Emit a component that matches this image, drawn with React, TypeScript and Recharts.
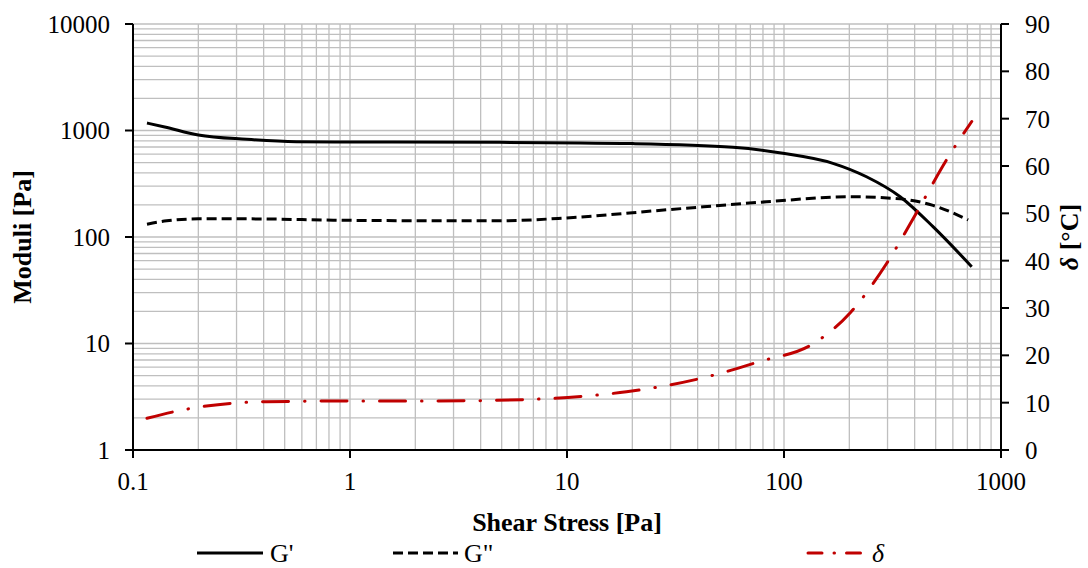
import { CartesianGrid, Line, LineChart, XAxis, YAxis } from "recharts"

if (typeof document !== "undefined") document.body.style.margin = "0"

const FONT = "Liberation Serif"
const TICK_FONT = 25
const TITLE_FONT = 26
const TICK_SIZE = 8

// G' (storage modulus)
const gpStress = [0.116, 0.14, 0.2, 0.334, 0.567, 1, 4.9, 20.1, 58.2, 98.9, 168, 240, 343, 486, 733]
const gpModulus = [1175, 1080, 908, 827, 785, 780, 774, 753, 695, 611, 492, 368, 239, 125, 52.6]

// G'' (loss modulus)
const gppStress = [0.116, 0.143, 0.2, 0.346, 0.836, 2.41, 4.9, 9.97, 28.8, 83, 201, 343, 486, 706]
const gppModulus = [132, 142, 148, 148, 144, 142, 142, 151, 180, 214, 239, 228, 198, 144.5]

// delta (phase angle)
const deltaStress = [0.116, 0.159, 0.218, 0.29, 0.413, 1.03, 2.41, 6.9, 13.7, 18.8, 41.1, 77.3, 137, 201, 297, 410, 561, 733]
const deltaValue = [6.7, 8.2, 9.3, 9.9, 10.2, 10.35, 10.35, 10.7, 11.6, 12.3, 15.1, 18.7, 22.5, 28.9, 39.4, 50.3, 61.3, 69.4]

const xMajors = [0.1, 1, 10, 100, 1000]
const yMajors = [1, 10, 100, 1000, 10000]
const rightTicks = [0, 10, 20, 30, 40, 50, 60, 70, 80, 90]
const minorSteps = [2, 3, 4, 5, 6, 7, 8, 9]

const withMinors = (majors: number[]) => {
  const out: number[] = []
  majors.forEach((m, i) => {
    out.push(m)
    if (i < majors.length - 1) minorSteps.forEach((s) => out.push(+(m * s).toPrecision(6)))
  })
  return out
}
const xTicks = withMinors(xMajors)
const yTicks = withMinors(yMajors)

const gpData = gpStress.map((s, i) => ({ stress: s, value: gpModulus[i] }))
const gppData = gppStress.map((s, i) => ({ stress: s, value: gppModulus[i] }))
const deltaData = deltaStress.map((s, i) => ({ stress: s, value: deltaValue[i] }))

const isMajor = (v: number) => Math.abs(Math.log10(v) - Math.round(Math.log10(v))) < 1e-9

const textStyle = { fontFamily: FONT }

const BottomTick = (props: any) => {
  const { x, y, payload } = props
  const v = payload.value
  if (!isMajor(v)) return <g />
  const axisY = y - 14 - TICK_SIZE
  return (
    <g>
      <line x1={x} x2={x} y1={axisY} y2={axisY + TICK_SIZE} stroke="#000" strokeWidth={2} />
      <text x={x} y={y} dy="0.71em" textAnchor="middle" style={textStyle} fontSize={TICK_FONT} fill="#000">
        {String(v)}
      </text>
    </g>
  )
}

const LeftTick = (props: any) => {
  const { x, y, payload } = props
  const v = payload.value
  if (!isMajor(v)) return <g />
  const axisX = x + 15 + TICK_SIZE
  return (
    <g>
      <line x1={axisX - TICK_SIZE} x2={axisX} y1={y} y2={y} stroke="#000" strokeWidth={2} />
      <text x={x} y={y} dy="0.355em" textAnchor="end" style={textStyle} fontSize={TICK_FONT} fill="#000">
        {String(v)}
      </text>
    </g>
  )
}

const RightTick = (props: any) => {
  const { x, y, payload } = props
  return (
    <text x={x} y={y} dy="0.355em" textAnchor="start" style={textStyle} fontSize={TICK_FONT} fill="#000">
      {String(payload.value)}
    </text>
  )
}

export default function App() {
  return (
    <div style={{ position: "relative", width: 1088, height: 568, background: "#fff", fontFamily: FONT }}>
      <LineChart width={1088} height={568} margin={{ top: 24, right: 27, bottom: 58, left: 53 }}>
        <CartesianGrid
          xAxisId="x"
          yAxisId="left"
          stroke="#BFBFBF"
          strokeWidth={1.3}
          horizontalValues={yTicks}
          verticalValues={xTicks}
        />
        <XAxis
          xAxisId="x"
          dataKey="stress"
          type="number"
          scale="log"
          domain={[0.1, 1000]}
          allowDataOverflow
          ticks={xTicks}
          interval={0}
          height={60}
          tickLine={false}
          tickSize={TICK_SIZE}
          tickMargin={14}
          axisLine={{ stroke: "#000", strokeWidth: 2 }}
          tick={<BottomTick />}
        />
        <YAxis
          yAxisId="left"
          type="number"
          scale="log"
          domain={[1, 10000]}
          allowDataOverflow
          ticks={yTicks}
          interval={0}
          width={80}
          tickLine={false}
          tickSize={TICK_SIZE}
          tickMargin={15}
          axisLine={{ stroke: "#000", strokeWidth: 2 }}
          tick={<LeftTick />}
        />
        <YAxis
          yAxisId="right"
          orientation="right"
          type="number"
          domain={[0, 90]}
          ticks={rightTicks}
          interval={0}
          width={60}
          tickSize={TICK_SIZE}
          tickMargin={16}
          tickLine={{ stroke: "#000", strokeWidth: 2 }}
          axisLine={{ stroke: "#000", strokeWidth: 2 }}
          tick={<RightTick />}
        />
        <Line
          xAxisId="x"
          yAxisId="left"
          data={gpData}
          dataKey="value"
          type="monotone"
          stroke="#000"
          strokeWidth={3}
          dot={false}
          isAnimationActive={false}
        />
        <Line
          xAxisId="x"
          yAxisId="left"
          data={gppData}
          dataKey="value"
          type="monotone"
          stroke="#000"
          strokeWidth={3}
          strokeDasharray="10 5"
          dot={false}
          isAnimationActive={false}
        />
        <Line
          xAxisId="x"
          yAxisId="right"
          data={deltaData}
          dataKey="value"
          type="monotone"
          stroke="#C00000"
          strokeWidth={3}
          strokeLinecap="round"
          strokeDasharray="26 16 0.5 16"
          dot={false}
          isAnimationActive={false}
        />
      </LineChart>
      <svg width={1088} height={568} style={{ position: "absolute", left: 0, top: 0, pointerEvents: "none" }}>
        <text
          x={22}
          y={237}
          transform="rotate(-90 22 237)"
          textAnchor="middle"
          dominantBaseline="central"
          style={textStyle}
          fontSize={TITLE_FONT}
          fontWeight="bold"
        >
          Moduli [Pa]
        </text>
        <text
          x={1069}
          y={237}
          transform="rotate(-90 1069 237)"
          textAnchor="middle"
          dominantBaseline="central"
          style={textStyle}
          fontSize={TITLE_FONT}
          fontWeight="bold"
        >
          <tspan fontStyle="italic">δ</tspan> [°C]
        </text>
        <text x={567} y={522} textAnchor="middle" dominantBaseline="central" style={textStyle} fontSize={TITLE_FONT} fontWeight="bold">
          Shear Stress [Pa]
        </text>
        <line x1={197} x2={263} y1={553} y2={553} stroke="#000" strokeWidth={3} />
        <text x={270} y={553} dominantBaseline="central" style={textStyle} fontSize={TITLE_FONT}>G'</text>
        <line x1={393} x2={458} y1={553} y2={553} stroke="#000" strokeWidth={3} strokeDasharray="10 5" />
        <text x={464} y={553} dominantBaseline="central" style={textStyle} fontSize={TITLE_FONT}>G"</text>
        <line x1={808} x2={868} y1={553} y2={553} stroke="#C00000" strokeWidth={3} strokeLinecap="round" strokeDasharray="14 12 0.5 12" />
        <text x={872} y={553} dominantBaseline="central" style={textStyle} fontSize={TITLE_FONT} fontStyle="italic">δ</text>
      </svg>
    </div>
  )
}
